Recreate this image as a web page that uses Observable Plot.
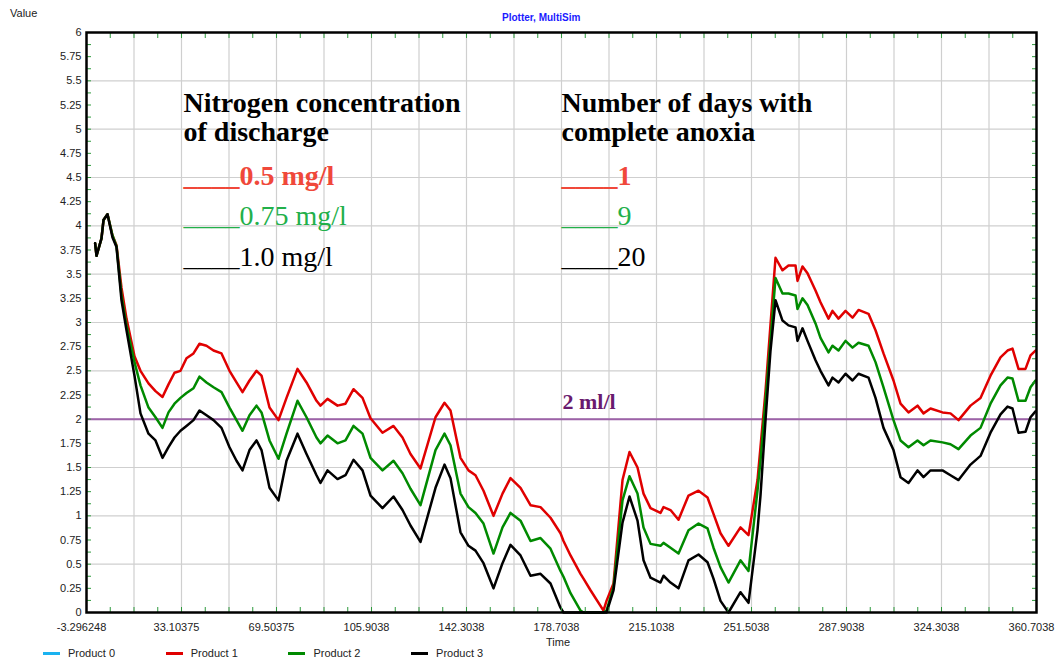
<!DOCTYPE html>
<html><head><meta charset="utf-8">
<script src="https://cdn.jsdelivr.net/npm/d3@7"></script>
<script src="https://cdn.jsdelivr.net/npm/@observablehq/plot@0.6"></script>
<style>
html,body{margin:0;padding:0;background:#fff;}
#wrap{position:relative;width:1055px;height:661px;font-family:"Liberation Sans",Arial,sans-serif;}
#wrap svg{position:absolute;left:0;top:0;overflow:visible;}
.lbl{position:absolute;font-size:11px;color:#222;white-space:nowrap;line-height:12px;}
.title{color:#1a1aff;font-weight:bold;font-size:10px;}
.sw{position:absolute;height:3px;width:17px;}
</style></head>
<body><div id="wrap"></div>
<script>
// ---- data ----
const times = [0, 0.54, 2.45, 3.22, 4.75, 6.67, 8.20, 10.11, 12.03, 15.10, 17.39, 20.46, 23.14, 25.82, 28.12, 30.42, 32.72, 35.02, 37.70, 40.00,
 42.68, 45.37, 48.43, 51.50, 54.18, 56.48, 59.16, 61.84, 63.76, 66.82, 70.27, 73.34, 77.55, 81.00, 84.83, 86.36, 89.05, 92.88, 95.94, 99.01,
 102.46, 105.52, 110.12, 114.33, 117.78, 120.85, 124.68, 130.43, 133.87, 136.17, 140.00, 143.07, 145.75, 148.82, 152.65, 156.10, 159.16, 163.00, 166.83, 170.66,
 174.49, 178.32, 179.47, 182.16, 185.99, 187.13, 189.82, 194.80, 195.95, 198.63, 202.08, 204.76, 207.83, 210.13, 212.81, 216.64, 217.79, 220.47, 223.54, 227.37,
 231.20, 234.65, 236.94, 239.63, 242.69, 247.29, 250.36, 253.80, 254.95, 256.87, 258.79, 260.70, 263.38, 265.68, 268.37, 269.13, 271.05, 272.96, 276.03, 277.94,
 281.01, 282.54, 284.84, 287.52, 290.21, 292.50, 296.34, 299.02, 302.08, 305.91, 308.60, 311.66, 315.11, 317.41, 320.09, 324.69, 327.75, 330.82, 335.42, 339.25,
 343.08, 346.91, 349.60, 351.51, 353.81, 356.49, 358.41, 360.32];

const product1 = [3.82, 3.69, 3.87, 4.06, 4.12, 3.90, 3.80, 3.36, 3.04, 2.65, 2.50, 2.37, 2.29, 2.23, 2.36, 2.48, 2.50, 2.63, 2.68, 2.78,
 2.76, 2.71, 2.68, 2.50, 2.38, 2.28, 2.40, 2.50, 2.45, 2.12, 1.99, 2.22, 2.52, 2.38, 2.19, 2.14, 2.21, 2.14, 2.16, 2.31,
 2.22, 2.01, 1.86, 1.93, 1.81, 1.64, 1.49, 2.02, 2.17, 2.09, 1.60, 1.47, 1.42, 1.26, 1.00, 1.23, 1.39, 1.29, 1.11, 1.09,
 0.98, 0.82, 0.74, 0.59, 0.40, 0.35, 0.23, 0.02, 0.12, 0.30, 1.37, 1.66, 1.50, 1.23, 1.08, 1.03, 1.09, 1.06, 0.96, 1.21,
 1.26, 1.19, 1.02, 0.82, 0.69, 0.88, 0.80, 1.37, 1.71, 2.29, 2.98, 3.67, 3.54, 3.59, 3.59, 3.43, 3.58, 3.51, 3.33, 3.21,
 3.04, 3.12, 3.04, 3.12, 3.05, 3.13, 3.09, 2.92, 2.68, 2.40, 2.16, 2.07, 2.14, 2.06, 2.11, 2.07, 2.06, 1.99, 2.14, 2.22,
 2.45, 2.64, 2.71, 2.73, 2.52, 2.52, 2.66, 2.71];

const product2 = [3.82, 3.69, 3.87, 4.06, 4.12, 3.90, 3.79, 3.28, 2.97, 2.59, 2.35, 2.12, 2.02, 1.91, 2.07, 2.16, 2.22, 2.27, 2.32, 2.44,
 2.38, 2.33, 2.28, 2.12, 1.99, 1.88, 2.04, 2.14, 2.07, 1.78, 1.59, 1.85, 2.19, 2.02, 1.81, 1.75, 1.83, 1.75, 1.78, 1.93,
 1.85, 1.60, 1.47, 1.57, 1.44, 1.28, 1.11, 1.68, 1.85, 1.73, 1.23, 1.09, 1.03, 0.92, 0.61, 0.88, 1.03, 0.95, 0.74, 0.77,
 0.66, 0.43, 0.37, 0.20, 0.02, 0, 0, 0, 0.02, 0.26, 1.16, 1.41, 1.23, 0.88, 0.71, 0.69, 0.72, 0.67, 0.61, 0.85,
 0.92, 0.87, 0.67, 0.47, 0.31, 0.54, 0.43, 1.26, 1.57, 2.19, 2.81, 3.46, 3.30, 3.30, 3.28, 3.14, 3.25, 3.18, 2.99, 2.84,
 2.69, 2.76, 2.71, 2.81, 2.74, 2.79, 2.76, 2.59, 2.33, 1.99, 1.78, 1.71, 1.78, 1.73, 1.78, 1.76, 1.74, 1.69, 1.83, 1.91,
 2.16, 2.35, 2.43, 2.42, 2.19, 2.19, 2.33, 2.40];

const product3 = [3.82, 3.69, 3.87, 4.06, 4.12, 3.88, 3.78, 3.23, 2.92, 2.45, 2.06, 1.85, 1.78, 1.60, 1.71, 1.81, 1.88, 1.93, 1.99, 2.09,
 2.04, 1.99, 1.91, 1.71, 1.57, 1.47, 1.68, 1.78, 1.68, 1.29, 1.16, 1.57, 1.85, 1.64, 1.42, 1.34, 1.47, 1.38, 1.42, 1.58,
 1.47, 1.21, 1.08, 1.20, 1.06, 0.90, 0.73, 1.29, 1.53, 1.39, 0.83, 0.69, 0.64, 0.51, 0.25, 0.51, 0.70, 0.59, 0.38, 0.40,
 0.30, 0.05, 0, 0, 0, 0, 0, 0, 0, 0.23, 0.93, 1.20, 0.95, 0.54, 0.36, 0.31, 0.38, 0.31, 0.25, 0.54,
 0.60, 0.52, 0.35, 0.12, 0, 0.21, 0.10, 0.85, 1.21, 1.99, 2.71, 3.23, 3.02, 2.97, 2.95, 2.81, 2.94, 2.81, 2.61, 2.50,
 2.35, 2.43, 2.38, 2.47, 2.40, 2.47, 2.43, 2.22, 1.91, 1.68, 1.40, 1.34, 1.47, 1.40, 1.47, 1.47, 1.42, 1.37, 1.53, 1.62,
 1.86, 2.05, 2.13, 2.11, 1.86, 1.87, 2.02, 2.08];

const seriesNames = ["Product 0", "Product 1", "Product 2", "Product 3"];
const seriesColors = ["#1ab2f0", "#e00000", "#008a00", "#000000"];
const xTickLabels = ["-3.296248", "33.10375", "69.50375", "105.9038", "142.3038", "178.7038", "215.1038", "251.5038", "287.9038", "324.3038", "360.7038"];
const yTickLabels = ["0","0.25","0.5","0.75","1","1.25","1.5","1.75","2","2.25","2.5","2.75","3","3.25","3.5","3.75","4","4.25","4.5","4.75","5","5.25","5.5","5.75","6"];
const threshold = [2];
const thresholdLabel = "2 ml/l";
const leftHeading = ["Nitrogen concentration", "of discharge"];
const rightHeading = ["Number of days with", "complete anoxia"];
const concentrations = ["0.5 mg/l", "0.75 mg/l", "1.0 mg/l"];
const anoxiaDays = ["1", "9", "20"];

// ---- build ----
const xTickValues = xTickLabels.map(Number);
const yTickValues = yTickLabels.map(Number);
const x0 = xTickValues[0], x1 = xTickValues[xTickValues.length - 1];
const xStep = (x1 - x0) / 10;
const gridX = d3.range(21).map(i => x0 + i * xStep / 2);
const minorX = d3.range(41).map(i => x0 + i * xStep / 4);
const gridY = d3.range(13).map(i => i / 2);
const minorY = d3.range(49).map(i => i / 8);
const xLabelOf = new Map(xTickValues.map((v, i) => [v, xTickLabels[i]]));

const rows = [];
[[product1, "Product 1"], [product2, "Product 2"], [product3, "Product 3"]].forEach(([vals, s]) => {
  times.forEach((t, i) => rows.push({t, v: vals[i], series: s}));
});

const serif = "'Liberation Serif','Times New Roman',serif";
const minorGreen = "#2e9a3c";
const textMarks = [];
const headBase = [79, 108];
const itemBase = [152, 192, 233];
const itemColors = ["#f0483a", "#22b04a", "#000000"];
const itemWeights = ["bold", "normal", "normal"];
[[leftHeading, 97], [rightHeading, 475]].forEach(([lines, dx]) => {
  lines.forEach((l, i) => textMarks.push(Plot.text([l], {text: d => d, frameAnchor: "top-left", dx, dy: headBase[i],
    textAnchor: "start", lineAnchor: "bottom", fontFamily: serif, fontSize: 28, fontWeight: "bold", fill: "#000"})));
});
[[concentrations, 97], [anoxiaDays, 475]].forEach(([items, dx]) => {
  items.forEach((l, i) => textMarks.push(Plot.text(["____" + l], {text: d => d, frameAnchor: "top-left", dx, dy: itemBase[i],
    textAnchor: "start", lineAnchor: "bottom", fontFamily: serif, fontSize: 28, fontWeight: itemWeights[i], fill: itemColors[i]})));
});

const chart = Plot.plot({
  width: 1055, height: 661,
  marginLeft: 86, marginRight: 19, marginTop: 32, marginBottom: 49,
  style: {fontFamily: "'Liberation Sans',Arial,sans-serif", fontSize: "11px", color: "#222", background: "transparent", overflow: "visible"},
  x: {domain: [x0, x1], label: null},
  y: {domain: [0, 6], label: null},
  color: {domain: seriesNames, range: seriesColors},
  marks: [
    Plot.gridX(gridX, {stroke: "#cfcfcf", strokeOpacity: 1, strokeWidth: 1.2}),
    Plot.gridY(gridY, {stroke: "#cfcfcf", strokeOpacity: 1, strokeWidth: 1.2}),
    Plot.ruleY(threshold, {stroke: "#9d62a8", strokeWidth: 2}),
    Plot.line(rows, {x: "t", y: "v", z: "series", stroke: "series", strokeWidth: 2.5}),
    Plot.axisX({ticks: xTickValues, tickFormat: d => xLabelOf.get(d), tickSize: 0, tickPadding: 11, dx: -5, label: null}),
    Plot.axisY({ticks: yTickValues, tickFormat: d => String(d), tickSize: 0, tickPadding: 5, label: null}),
    Plot.axisX({anchor: "bottom", ticks: minorX, tickSize: -5, stroke: minorGreen, fill: "none", tickFormat: () => "", label: null}),
    Plot.axisX({anchor: "top", ticks: minorX, tickSize: -5, stroke: minorGreen, fill: "none", tickFormat: () => "", label: null}),
    Plot.axisY({anchor: "left", ticks: minorY, tickSize: -5, stroke: minorGreen, fill: "none", tickFormat: () => "", label: null}),
    Plot.axisY({anchor: "right", ticks: minorY, tickSize: -5, stroke: minorGreen, fill: "none", tickFormat: () => "", label: null}),
    Plot.text([thresholdLabel], {text: d => d, frameAnchor: "top-left", dx: 476, dy: 376, textAnchor: "start", lineAnchor: "bottom",
      fontFamily: serif, fontSize: 22, fontWeight: "bold", fill: "#6a1a6e"}),
    ...textMarks,
    Plot.frame({stroke: "#000", strokeWidth: 2.5})
  ]
});

const wrap = document.getElementById("wrap");
wrap.appendChild(chart);
function label(text, left, top, cls, extra) {
  const d = document.createElement("div");
  d.className = "lbl " + (cls || "");
  d.textContent = text;
  d.style.left = left + "px"; d.style.top = top + "px";
  if (extra) Object.assign(d.style, extra);
  wrap.appendChild(d);
  return d;
}
label("Value", 10, 7);
label("Plotter, MultiSim", 502, 12, "title");
label("Time", 546, 636);
seriesNames.forEach((s, i) => {
  const sw = document.createElement("div");
  sw.className = "sw";
  sw.style.left = (43 + i * 122.7) + "px";
  sw.style.top = "652px";
  sw.style.background = seriesColors[i];
  wrap.appendChild(sw);
  label(s, 68 + i * 122.7, 647);
});
</script></body></html>
